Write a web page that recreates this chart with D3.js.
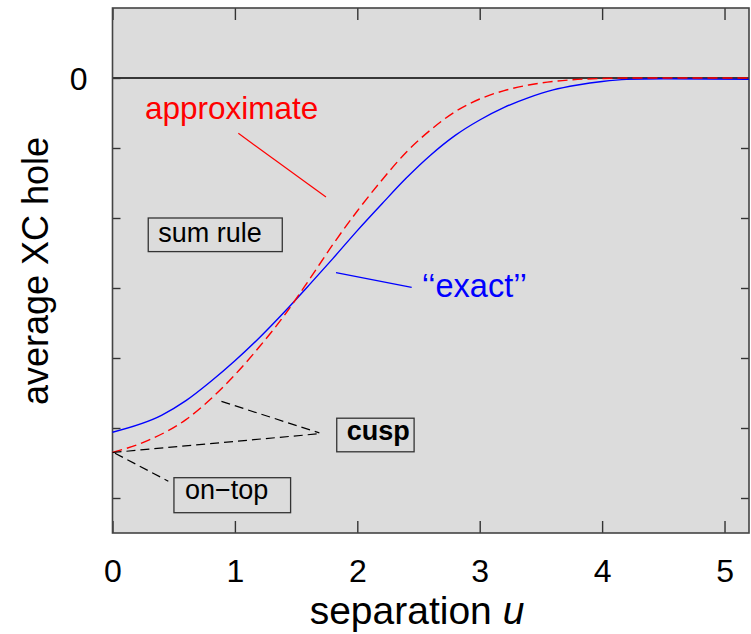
<!DOCTYPE html>
<html>
<head>
<meta charset="utf-8">
<script src="https://cdn.jsdelivr.net/npm/d3@7"></script>
<style>
  html, body { margin: 0; padding: 0; background: #ffffff; }
  svg { display: block; font-family: "Liberation Sans", Arial, Helvetica, sans-serif; }
</style>
</head>
<body>
<svg id="chart" width="751" height="634"></svg>
<script>
// Separation u (x) and average XC hole values for the two curves
const exactU = [0, 0.4, 0.6, 0.8, 1.0, 1.2, 1.4, 1.6, 1.8, 2.0, 2.2, 2.4, 2.6, 2.8, 3.0, 3.2, 3.4, 3.6, 3.8, 4.0, 4.2, 4.5, 5.2];
const exactV = [-0.506, -0.482, -0.461, -0.434, -0.404, -0.371, -0.335, -0.297, -0.258, -0.218, -0.180, -0.143, -0.110, -0.082, -0.060, -0.042, -0.028, -0.017, -0.010, -0.005, -0.002, -0.001, -0.002];

const approxU = [0, 0.3, 0.6, 0.8, 1.0, 1.2, 1.4, 1.6, 1.8, 2.0, 2.2, 2.4, 2.6, 2.8, 3.0, 3.2, 3.4, 3.6, 3.8, 4.0, 4.2, 5.2];
const approxV = [-0.535, -0.517, -0.488, -0.459, -0.424, -0.384, -0.340, -0.290, -0.238, -0.190, -0.146, -0.106, -0.074, -0.048, -0.030, -0.018, -0.010, -0.005, -0.002, -0.0007, 0, 0];

// Axis ticks
const xTicks = [0, 1, 2, 3, 4, 5];
const xTickLabels = ["0", "1", "2", "3", "4", "5"];
const yTicks = [0, -0.1, -0.2, -0.3, -0.4, -0.5, -0.6];
const yTickLabels = ["0", "", "", "", "", "", ""];

const W = 751, H = 634;
const margin = { left: 112.5, right: 2, top: 8, bottom: 101 };
const svg = d3.select("#chart");

const x = d3.scaleLinear().domain([0, 5.2]).range([margin.left, W - margin.right]);
const y = d3.scaleLinear().domain([-0.65, 0.1]).range([H - margin.bottom, margin.top]);

// Plot background
svg.append("rect")
  .attr("x", x(0)).attr("y", y(0.1))
  .attr("width", x(5.2) - x(0)).attr("height", y(-0.65) - y(0.1))
  .attr("fill", "#dcdcdc");

// Zero line
svg.append("line")
  .attr("x1", x(0)).attr("x2", x(5.2))
  .attr("y1", y(0)).attr("y2", y(0))
  .attr("stroke", "#000").attr("stroke-width", 1.4);

// Axes: ticks pointing inward, mirrored on top and right
const axisBottom = d3.axisBottom(x).tickValues(xTicks).tickFormat((d, i) => xTickLabels[i]).tickSizeInner(-12).tickSizeOuter(0).tickPadding(26);
const axisTop = d3.axisTop(x).tickValues(xTicks).tickFormat("").tickSizeInner(-12).tickSizeOuter(0);
const axisLeft = d3.axisLeft(y).tickValues(yTicks).tickFormat((d, i) => yTickLabels[i]).tickSizeInner(-8).tickSizeOuter(0).tickPadding(25);
const axisRight = d3.axisRight(y).tickValues(yTicks).tickFormat("").tickSizeInner(-8).tickSizeOuter(0);

function styleAxis(g) {
  g.select(".domain").remove();
  g.selectAll(".tick line").attr("stroke", "#333").attr("stroke-width", 1.4);
  g.selectAll(".tick text").attr("fill", "#000").attr("font-size", 32)
    .attr("font-family", "Liberation Sans, Arial, sans-serif");
}

svg.append("g").attr("transform", `translate(0,${y(-0.65)})`).call(axisBottom).call(styleAxis);
svg.append("g").attr("transform", `translate(0,${y(0.1)})`).call(axisTop).call(styleAxis);
svg.append("g").attr("transform", `translate(${x(0)},0)`).call(axisLeft).call(styleAxis)
  .selectAll(".tick text").attr("dy", "0.36em");
svg.append("g").attr("transform", `translate(${x(5.2)},0)`).call(axisRight).call(styleAxis);

// Frame
svg.append("rect")
  .attr("x", x(0)).attr("y", y(0.1))
  .attr("width", x(5.2) - x(0)).attr("height", y(-0.65) - y(0.1))
  .attr("fill", "none").attr("stroke", "#444").attr("stroke-width", 1.6);

// Curves
const line = d3.line().x(d => x(d[0])).y(d => y(d[1])).curve(d3.curveMonotoneX);
const exactData = exactU.map((u, i) => [u, exactV[i]]);
const approxData = approxU.map((u, i) => [u, approxV[i]]);

svg.append("path").datum(exactData)
  .attr("d", line).attr("fill", "none")
  .attr("stroke", "#0000ff").attr("stroke-width", 1.4);

svg.append("path").datum(approxData)
  .attr("d", line).attr("fill", "none")
  .attr("stroke", "#ff0000").attr("stroke-width", 1.4)
  .attr("stroke-dasharray", "10,5");

// Annotation leader lines (data coordinates)
const leaders = [
  { from: [1.028, -0.079], to: [1.744, -0.170], color: "#ff0000", dash: null },
  { from: [1.826, -0.278], to: [2.444, -0.299], color: "#0000ff", dash: null },
  { from: [0.0, -0.535], to: [1.70, -0.508], color: "#000", dash: "9,5" },
  { from: [0.89, -0.462], to: [1.69, -0.507], color: "#000", dash: "9,5" },
  { from: [0.02, -0.536], to: [0.456, -0.576], color: "#000", dash: "9,5" }
];
leaders.forEach(l => {
  svg.append("line")
    .attr("x1", x(l.from[0])).attr("y1", y(l.from[1]))
    .attr("x2", x(l.to[0])).attr("y2", y(l.to[1]))
    .attr("stroke", l.color).attr("stroke-width", 1.2)
    .attr("stroke-dasharray", l.dash);
});

// Curve labels
svg.append("text").attr("x", x(0.266)).attr("y", y(-0.0586))
  .attr("fill", "#ff0000").attr("font-size", 31.5).text("approximate");
svg.append("text").attr("x", x(2.526)).attr("y", y(-0.313))
  .attr("fill", "#0000ff").attr("font-size", 32.5).text("\u2018\u2018exact\u2019\u2019");

// Boxed labels: [u0, v0, u1, v1] box corners, text start and baseline
const boxes = [
  { text: "sum rule", box: [0.292, -0.200, 1.387, -0.248], tx: 0.374, ty: -0.2347, bold: false },
  { text: "cusp", box: [1.832, -0.486, 2.464, -0.534], tx: 1.913, ty: -0.517, bold: true },
  { text: "on\u2212top", box: [0.502, -0.571, 1.455, -0.621], tx: 0.592, ty: -0.601, bold: false }
];
boxes.forEach(b => {
  svg.append("rect")
    .attr("x", x(b.box[0])).attr("y", y(b.box[1]))
    .attr("width", x(b.box[2]) - x(b.box[0]))
    .attr("height", y(b.box[3]) - y(b.box[1]))
    .attr("fill", "none").attr("stroke", "#333").attr("stroke-width", 1.3);
  svg.append("text").attr("x", x(b.tx)).attr("y", y(b.ty))
    .attr("fill", "#000").attr("font-size", 27)
    .attr("font-weight", b.bold ? "bold" : "normal")
    .text(b.text);
});

// Axis titles
svg.append("text")
  .attr("x", 417).attr("y", 624)
  .attr("text-anchor", "middle").attr("font-size", 39).attr("fill", "#000")
  .html('separation <tspan font-style="italic">u</tspan>');

svg.append("text")
  .attr("transform", `translate(48,271) rotate(-90)`)
  .attr("text-anchor", "middle").attr("font-size", 36).attr("fill", "#000")
  .text("average XC hole");
</script>
</body>
</html>
